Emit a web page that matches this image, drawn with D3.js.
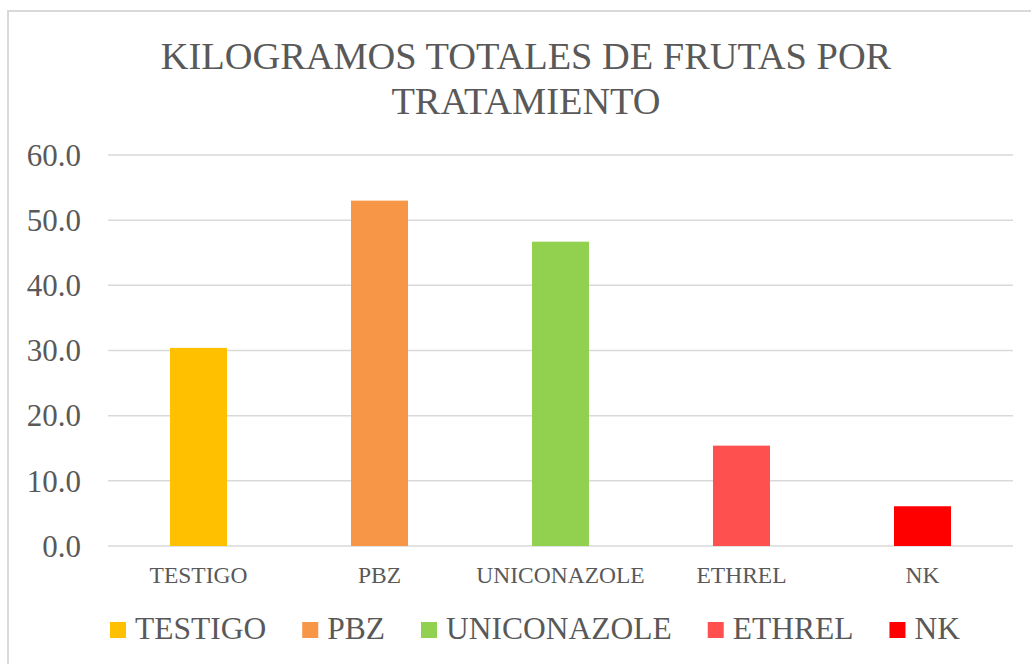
<!DOCTYPE html>
<html>
<head>
<meta charset="utf-8">
<script src="https://cdn.jsdelivr.net/npm/d3@7"></script>
<style>
  body { margin: 0; background: #fff; }
</style>
</head>
<body>
<div id="chart"></div>
<script>
// data
var categories = ["TESTIGO", "PBZ", "UNICONAZOLE", "ETHREL", "NK"];
var values = [30.4, 53.0, 46.7, 15.4, 6.1];
var colors = ["#FFC000", "#F79646", "#92D050", "#FF5050", "#FF0000"];
var yTicks = [0, 10, 20, 30, 40, 50, 60];
var titleLines = ["KILOGRAMOS TOTALES DE FRUTAS POR", "TRATAMIENTO"];

var W = 1031, H = 664;
var FONT = "Liberation Serif";
var INK = "#595959";
var plot = { left: 108, right: 1013, top: 155, bottom: 546 };

var svg = d3.select("#chart").append("svg")
  .attr("width", W)
  .attr("height", H)
  .attr("font-family", FONT);

// outer chart frame (right/bottom fall outside the picture)
svg.append("path")
  .attr("d", "M8," + H + "V11H" + W)
  .attr("fill", "none")
  .attr("stroke", "#d9d9d9")
  .attr("stroke-width", 2);

// title
svg.selectAll(".title")
  .data(titleLines)
  .enter().append("text")
  .attr("class", "title")
  .attr("x", 526)
  .attr("y", function(d, i) { return 69 + i * 45; })
  .attr("text-anchor", "middle")
  .attr("font-family", FONT)
  .attr("font-size", 38.4)
  .attr("fill", INK)
  .text(function(d) { return d; });

var x = d3.scaleBand()
  .domain(categories)
  .range([plot.left, plot.right])
  .paddingInner(0.685)
  .paddingOuter(0.3425);

var y = d3.scaleLinear()
  .domain([0, 60])
  .range([plot.bottom, plot.top]);

// gridlines
svg.append("g")
  .selectAll("line")
  .data(yTicks)
  .enter().append("line")
  .attr("x1", plot.left)
  .attr("x2", plot.right)
  .attr("y1", function(d) { return y(d); })
  .attr("y2", function(d) { return y(d); })
  .attr("stroke", "#d9d9d9")
  .attr("stroke-width", 1.5);

// y axis labels
var yAxis = svg.append("g")
  .attr("transform", "translate(" + (plot.left - 27) + ",0)")
  .call(d3.axisLeft(y).tickValues(yTicks).tickFormat(d3.format(".1f")).tickSize(0).tickPadding(0))
  .attr("font-family", FONT)
  .attr("font-size", 31);
yAxis.select(".domain").remove();
yAxis.selectAll("text")
  .attr("fill", INK)
  .attr("dy", "0.33em");

// bars
svg.append("g")
  .selectAll("rect")
  .data(values)
  .enter().append("rect")
  .attr("x", function(d, i) { return x(categories[i]); })
  .attr("y", function(d) { return y(d); })
  .attr("width", x.bandwidth())
  .attr("height", function(d) { return y(0) - y(d); })
  .attr("fill", function(d, i) { return colors[i]; });

// x axis labels
var xAxis = svg.append("g")
  .attr("transform", "translate(0," + plot.bottom + ")")
  .call(d3.axisBottom(x).tickSize(0).tickPadding(0))
  .attr("font-family", FONT)
  .attr("font-size", 23.5);
xAxis.select(".domain").remove();
xAxis.selectAll("text")
  .attr("y", 37)
  .attr("dy", 0)
  .attr("fill", INK);

// legend
var legend = svg.append("g");
var lx = 110;
categories.forEach(function(c, i) {
  legend.append("rect")
    .attr("x", lx)
    .attr("y", 622)
    .attr("width", 16)
    .attr("height", 16)
    .attr("fill", colors[i]);
  var t = legend.append("text")
    .attr("x", lx + 25)
    .attr("y", 639)
    .attr("font-family", FONT)
    .attr("font-size", 31.5)
    .attr("fill", INK)
    .text(c);
  lx += 25 + t.node().getComputedTextLength() + 36;
});
</script>
</body>
</html>
